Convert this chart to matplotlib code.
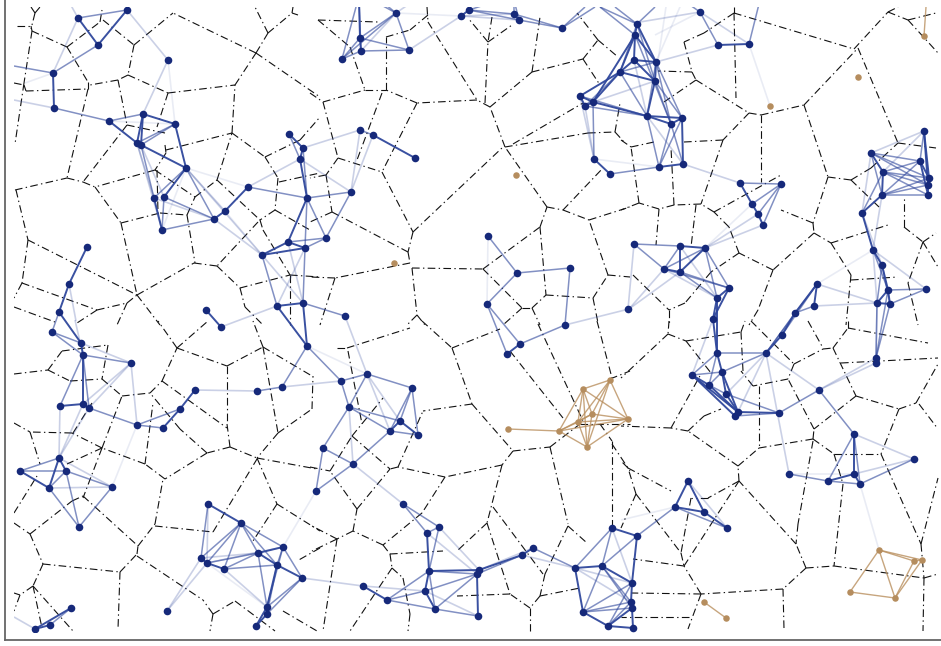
import matplotlib
matplotlib.use("Agg")
import matplotlib.pyplot as plt
from matplotlib.collections import LineCollection
from matplotlib.patches import Rectangle

plt.rcParams['lines.scale_dashes'] = False

# network nodes
blue_nodes = [
    (78,18),(127,10),(98,45),(53,73),(54,108),(168,60),(109,121),(143,114),(175,124),(137,143),(141,145),
    (186,168),(154,198),(164,197),(162,230),(214,219),(225,211),(248,187),(289,134),(303,148),(300,159),
    (307,198),(288,242),(305,248),(262,255),(277,306),(303,303),(87,247),(69,284),(59,312),(206,310),
    (396,13),(360,38),(361,51),(342,59),(409,50),(461,16),(469,10),(514,14),(519,20),(562,28),
    (360,130),(373,135),(415,158),(351,192),(326,238),(345,316),(488,236),(517,273),(570,268),(487,304),
    (565,325),(628,309),(594,159),(610,174),(580,96),(585,106),(593,102),(620,72),
    (637,24),(635,35),(634,60),(656,62),(655,81),(647,116),(671,124),(682,118),(659,167),(683,164),
    (700,12),(718,45),(749,44),(740,183),(781,184),(752,204),(758,214),(763,225),
    (924,131),(871,153),(920,161),(883,172),(929,178),(928,185),(882,195),(928,195),(862,213),
    (873,250),(882,265),(888,290),(926,289),(877,303),(890,304),(817,284),(814,306),(795,313),
    (634,244),(680,246),(705,248),(664,269),(680,272),(729,288),(717,298),(713,319),
    (52,332),(81,343),(83,355),(131,363),(60,406),(83,404),(89,408),(137,425),(163,428),(180,409),(195,390),
    (257,391),(282,387),(307,346),(221,327),(59,458),(20,471),(66,471),(49,488),(112,487),(79,527),(316,491),
    (208,504),(241,523),(283,547),(258,553),(201,558),(207,563),(224,569),(277,565),(302,578),(267,607),
    (267,614),(256,626),(167,611),(71,608),(50,625),(35,629),
    (367,374),(341,381),(412,388),(349,407),(390,431),(400,421),(418,435),(323,448),(353,464),(403,504),
    (427,533),(439,527),(429,571),(479,570),(477,574),(425,591),(435,609),(478,616),(387,600),(363,586),
    (522,555),(533,548),(575,568),(602,566),(612,528),(637,536),(583,612),(608,626),(632,583),(631,602),
    (632,608),(633,628),(507,354),(520,344),
    (717,353),(766,353),(782,335),(692,375),(722,372),(709,385),(726,394),(738,412),(735,416),(779,413),
    (819,390),(854,434),(876,358),(876,363),(914,459),(789,474),(828,481),(854,474),(860,484),
    (688,481),(675,507),(704,512),(727,528),
]
tan_nodes = [
    (770,106),(858,77),(924,36),(516,175),(394,263),(508,429),(559,431),(578,422),(583,389),(610,380),
    (592,414),(628,419),(587,447),(704,602),(726,618),(879,550),(914,561),(922,560),(895,598),(850,592),
]

# links, (x0, y0, x1, y1), grouped by how strong they look
strong_links = [
    (78,18,98,45),(127,10,98,45),(53,73,54,108),(143,114,175,124),(109,121,137,143),(143,114,137,143),
    (143,114,141,145),(175,124,186,168),(141,145,186,168),(186,168,164,197),(154,198,162,230),(214,219,225,211),
    (225,211,248,187),(289,134,303,148),(303,148,300,159),(300,159,307,198),(373,135,415,158),(307,198,288,242),
    (288,242,305,248),(288,242,262,255),(262,255,305,248),(277,306,303,303),(277,306,307,346),(303,303,307,346),
    (206,310,221,327),(180,409,195,390),(163,428,180,409),(87,247,69,284),(69,284,59,312),
    (59,312,81,343),(81,343,83,355),(83,355,83,404),(60,406,83,404),(83,404,89,408),(59,458,49,488),(59,458,66,471),
    (20,471,49,488),(71,608,35,629),(50,625,35,629),(208,504,241,523),(283,547,258,553),(258,553,277,565),
    (201,558,207,563),(207,563,224,569),(277,565,302,578),(277,565,267,607),(267,607,267,614),(267,614,256,626),
    (267,607,256,626),(400,421,390,431),(400,421,418,435),(427,533,429,571),(429,571,479,570),(429,571,425,591),
    (425,591,435,609),(363,586,387,600),(477,574,478,616),(479,570,522,555),(522,555,533,548),(575,568,602,566),
    (612,528,637,536),(575,568,583,612),(602,566,632,583),(637,536,632,583),(583,612,608,626),(608,626,632,608),
    (608,626,633,628),(632,583,631,602),(631,602,632,608),(632,608,633,628),(675,507,688,481),(675,507,704,512),
    (688,481,704,512),(704,512,727,528),(507,354,520,344),(680,246,705,248),(680,246,680,272),(705,248,680,272),
    (664,269,680,272),(729,288,717,298),(729,288,713,319),(717,298,713,319),(713,319,717,353),(717,298,717,353),
    (717,353,722,372),(692,375,709,385),(692,375,738,412),(692,375,735,416),(709,385,738,412),(722,372,726,394),
    (722,372,738,412),(726,394,738,412),(738,412,779,413),(766,353,782,335),(782,335,795,313),(795,313,817,284),
    (814,306,817,284),(854,434,854,474),(828,481,854,474),(854,474,860,484),(873,250,882,265),(862,213,873,250),
    (882,265,888,290),(888,290,890,304),(888,290,877,303),(877,303,890,304),(876,358,876,363),(924,131,928,185),
    (924,131,929,178),(871,153,883,172),(920,161,929,178),(920,161,928,195),(883,172,882,195),(929,178,928,185),
    (928,185,928,195),(882,195,862,213),(637,24,635,35),(635,35,634,60),(635,35,620,72),(635,35,656,62),
    (637,24,656,62),(634,60,656,62),(634,60,620,72),(634,60,655,81),(620,72,655,81),(656,62,655,81),(655,81,647,116),
    (647,116,671,124),(647,116,682,118),(671,124,682,118),(682,118,683,164),(659,167,683,164),(620,72,580,96),
    (620,72,593,102),(635,35,593,102),(580,96,593,102),(585,106,593,102),(580,96,585,106),(593,102,647,116),
    (594,159,610,174),(514,14,519,20),(461,16,469,10),(360,38,361,51),(360,38,359,0),(718,45,749,44),
    (740,183,752,204),(752,204,758,214),(758,214,763,225),
]
medium_links = [
    (78,18,127,10),(98,45,53,73),(14,66,53,73),(54,108,109,121),(109,121,143,114),(175,124,141,145),(175,124,137,143),
    (141,145,154,198),(186,168,154,198),(164,197,162,230),(162,230,214,219),(164,197,214,219),(186,168,214,219),
    (248,187,307,198),(289,134,300,159),(303,148,307,198),(360,130,373,135),(307,198,351,192),(351,192,326,238),
    (307,198,305,248),(307,198,326,238),(288,242,326,238),(305,248,326,238),(262,255,277,306),(305,248,303,303),
    (303,303,345,316),(307,346,341,381),(282,387,307,346),(257,391,282,387),(137,425,180,409),(137,425,163,428),(59,312,52,332),
    (52,332,81,343),(52,332,83,355),(83,355,131,363),(83,355,89,408),(83,355,60,406),(89,408,137,425),(59,458,20,471),
    (20,471,66,471),(66,471,49,488),(66,471,112,487),(49,488,79,527),(66,471,79,527),(112,487,79,527),(71,608,50,625),
    (208,504,201,558),(241,523,283,547),(241,523,258,553),(241,523,201,558),(241,523,207,563),(241,523,224,569),
    (241,523,277,565),(283,547,277,565),(258,553,207,563),(258,553,224,569),(258,553,267,607),(224,569,277,565),
    (283,547,302,578),(277,565,267,614),(283,547,267,607),(302,578,267,607),(302,578,267,614),(316,491,323,448),
    (341,381,367,374),(367,374,412,388),(341,381,349,407),(367,374,349,407),(412,388,400,421),(412,388,418,435),
    (412,388,390,431),(349,407,400,421),(349,407,390,431),(390,431,418,435),(390,431,353,464),(323,448,353,464),
    (349,407,323,448),(353,464,316,491),(403,504,427,533),(403,504,439,527),(427,533,439,527),(439,527,429,571),
    (429,571,477,574),(429,571,435,609),(425,591,477,574),(435,609,477,574),(435,609,478,616),(387,600,429,571),
    (387,600,425,591),(387,600,435,609),(477,574,522,555),(533,548,575,568),(575,568,612,528),(602,566,612,528),
    (602,566,637,536),(602,566,583,612),(602,566,631,602),(602,566,632,608),(583,612,632,583),(583,612,631,602),
    (583,612,632,608),(608,626,632,583),(608,626,631,602),(637,536,675,507),(675,507,727,528),
    (488,236,517,273),(517,273,570,268),(517,273,487,304),(570,268,565,325),(487,304,520,344),(487,304,507,354),
    (520,344,565,325),(634,244,680,246),(634,244,664,269),(680,246,664,269),(705,248,664,269),(664,269,729,288),
    (680,272,729,288),(680,272,717,298),(705,248,729,288),(705,248,717,298),(717,353,766,353),(717,353,692,375),
    (717,353,709,385),(692,375,722,372),(709,385,722,372),(709,385,726,394),(722,372,766,353),(726,394,779,413),
    (735,416,779,413),(782,335,817,284),(766,353,817,284),(766,353,795,313),(795,313,814,306),(779,413,819,390),
    (819,390,854,434),(854,434,828,481),(854,434,860,484),(789,474,828,481),(828,481,860,484),(860,484,914,459),
    (873,250,888,290),(882,265,877,303),(882,265,890,304),(888,290,926,289),(890,304,926,289),(877,303,876,358),
    (890,304,876,358),(888,290,876,358),(924,131,920,161),(871,153,920,161),(871,153,882,195),(871,153,929,178),
    (871,153,928,185),(920,161,883,172),(920,161,882,195),(883,172,929,178),(883,172,928,185),(883,172,928,195),
    (882,195,929,178),(882,195,928,185),(882,195,928,195),(883,172,862,213),(637,24,620,72),(637,24,655,81),
    (620,72,656,62),(620,72,647,116),(656,62,647,116),(635,35,671,124),(656,62,671,124),(655,81,671,124),
    (655,81,682,118),(656,62,682,118),(647,116,659,167),(671,124,659,167),(671,124,683,164),(682,118,659,167),
    (620,72,585,106),(580,96,647,116),(585,106,647,116),(593,102,594,159),(610,174,659,167),(637,24,615,7),
    (637,24,600,7),(637,24,655,7),(635,35,600,7),(562,28,585,7),(562,28,595,7),(562,28,519,20),(562,28,514,14),
    (469,10,514,14),(469,10,519,20),(514,14,514,0),(519,20,514,0),(469,10,500,0),(396,13,360,38),(396,13,342,59),
    (396,13,409,50),(360,38,342,59),(361,51,342,59),(361,51,409,50),(360,38,409,50),(361,51,359,0),(342,59,356,7),
    (396,13,372,0),(396,13,380,0),(700,12,718,45),(749,44,760,0),(700,12,690,5),(740,183,781,184),(781,184,752,204),
    (781,184,758,214),(781,184,763,225),
]
light_links = [
    (78,18,53,73),(78,18,68,0),(127,10,168,60),(14,100,54,108),(168,60,143,114),(137,143,154,198),(141,145,164,197),
    (137,143,162,230),(154,198,214,219),(186,168,225,211),(248,187,300,159),(186,168,262,255),(214,219,262,255),
    (303,148,360,130),(300,159,351,192),(360,130,351,192),(373,135,351,192),(305,248,277,306),(288,242,303,303),
    (262,255,303,303),(221,327,277,306),(345,316,367,374),(282,387,341,381),(195,390,257,391),(69,284,76,321),
    (81,343,131,363),(75,320,83,355),(131,363,137,425),(131,363,89,408),(131,363,83,404),(60,406,59,458),(89,408,59,458),
    (83,404,59,458),(49,488,112,487),(59,458,112,487),(14,617,35,629),(208,504,207,563),(283,547,207,563),(258,553,201,558),
    (224,569,267,607),(201,558,167,611),(207,563,167,611),(302,578,363,586),(367,374,390,431),(367,374,400,421),
    (349,407,353,464),(353,464,403,504),(439,527,479,570),(427,533,477,574),(363,586,425,591),(425,591,478,616),
    (479,570,533,548),(522,555,575,568),(612,528,632,583),(575,568,631,602),(575,568,632,583),(688,481,727,528),
    (565,325,629,309),(628,309,634,244),(629,309,680,272),(629,309,664,269),(664,269,717,298),(680,246,717,298),
    (705,248,763,225),(705,248,758,214),(713,319,692,375),(726,394,766,353),(738,412,766,353),(814,306,877,303),
    (817,284,877,303),(766,353,789,474),(766,353,819,390),(819,390,876,363),(819,390,876,358),(854,434,914,459),
    (854,474,914,459),(873,250,877,303),(873,250,926,289),(877,303,876,363),(882,265,862,213),(924,131,871,153),
    (924,131,883,172),(871,153,862,213),(882,195,873,250),(634,60,647,116),(647,116,683,164),(655,81,593,102),
    (580,96,594,159),(585,106,594,159),(683,164,740,183),(461,16,514,14),(461,16,519,20),(409,50,461,16),(396,13,361,51),
    (396,13,415,0),(700,12,749,44),(700,12,640,22),(718,45,656,62),
]
faint_links = [
    (25,83,53,73),(168,60,175,124),(109,121,175,124),(186,168,248,187),(162,230,186,168),(225,211,262,255),
    (307,346,367,374),(137,425,112,487),(207,563,267,607),(283,547,316,491),(488,236,487,304),
    (789,474,854,474),(705,248,752,204),(817,284,873,250),(675,507,621,520),(594,159,659,167),(749,44,770,106),
    (396,13,461,16),(683,0,656,62),(667,0,655,81),(700,12,655,35),(860,484,879,550),
]
tan_links = [
    (704,602,726,618),(879,550,914,561),(879,550,922,560),(879,550,850,592),(879,550,895,598),(850,592,895,598),
    (895,598,914,561),(895,598,922,560),(914,561,922,560),(924,36,926,7),(508,429,559,431),(559,431,578,422),
    (559,431,592,414),(559,431,583,389),(559,431,587,447),(559,431,628,419),(583,389,610,380),(583,389,578,422),
    (583,389,592,414),(583,389,587,447),(583,389,628,419),(610,380,578,422),(610,380,592,414),(610,380,628,419),
    (610,380,587,447),(578,422,592,414),(592,414,628,419),(578,422,628,419),(578,422,587,447),(592,414,587,447),
    (587,447,628,419),
]

# cell borders behind the network
cell_borders = [
    (35,13,40,7),(35,13,31,7),(35,13,31,29),(17,26,31,26),(31,26,32,31),(32,31,67,47),(32,31,24,83),(24,83,15,144),
    (14,83,24,85),(24,85,26,91),(26,91,88,89),(67,47,88,82),(88,82,88,89),(67,47,100,22),(100,22,102,10),(103,20,134,45),
    (134,45,173,13),(134,45,128,75),(128,75,118,80),(118,80,90,85),(128,75,168,93),(118,80,127,125),(168,93,235,85),
    (168,93,157,127),(88,89,67,178),(127,125,83,182),(127,125,165,133),(165,145,166,153),(166,153,155,170),(166,150,232,133),
    (155,170,95,187),(155,170,195,197),(15,190,67,178),(67,178,83,182),(83,182,95,187),(95,187,121,223),(121,223,160,213),
    (160,213,187,215),(121,223,137,295),(16,190,28,240),(28,240,22,283),(22,283,14,298),(28,240,137,295),(22,283,97,310),
    (97,310,127,303),(127,303,137,295),(137,295,194,263),(137,295,160,325),(127,303,117,325),(14,307,55,322),(97,310,77,323),
    (157,170,158,213),(187,215,195,263),(187,215,195,197),(195,197,217,180),(217,180,232,133),(232,133,235,85),(235,85,256,53),
    (256,53,268,33),(268,33,255,7),(268,33,292,13),(292,13,293,7),(292,13,298,15),(256,53,173,13),(256,53,320,97),
    (232,133,265,157),(265,157,278,178),(265,157,300,140),(300,140,320,117),(278,178,275,210),(279,182,320,173),(275,210,260,220),
    (217,180,260,220),(260,220,263,230),(263,230,290,275),(258,222,217,266),(194,263,217,266),(217,266,240,288),(240,288,245,307),
    (245,307,263,325),(240,288,290,275),(290,275,320,277),(290,275,290,325),(275,210,310,230),
    (318,20,378,22),(318,20,350,47),(350,47,365,90),(365,90,386,90),(386,90,386,37),(386,37,410,30),(410,30,428,15),
    (427,7,428,22),(428,22,477,100),(477,100,417,103),(417,103,386,90),(417,103,382,172),(382,93,357,160),(323,102,365,90),
    (323,102,338,158),(310,93,323,102),(338,158,382,172),(338,158,326,175),(326,175,332,212),(326,175,310,178),(332,212,408,252),
    (332,212,310,222),(382,172,413,232),(413,232,408,252),(413,232,503,147),(408,252,410,263),(410,263,335,278),(335,278,310,277),
    (335,278,320,325),(412,268,483,269),(412,268,417,315),(417,315,425,325),(417,315,407,325),(483,269,540,227),(483,269,522,308),
    (522,308,503,325),(522,308,532,308),(532,308,546,295),(532,308,540,325),(540,227,547,207),(540,227,546,295),(546,295,593,298),
    (593,298,598,323),(593,298,608,275),(608,275,630,277),(608,275,589,220),(547,207,563,210),(563,210,589,220),(563,210,603,168),
    (589,220,630,207),(547,207,505,147),(505,147,490,107),(490,107,477,100),(490,107,532,72),(532,72,583,59),(532,72,540,17),
    (583,59,598,40),(583,59,600,85),(485,103,488,42),(488,42,468,18),(488,42,512,25),(492,17,488,42),(505,147,588,133),
    (513,144,583,103),(588,133,615,132),(615,132,625,143),(615,132,620,103),(598,40,618,57),(598,40,577,13),
    (734,13,854,49),(734,13,734,7),(734,13,704,33),(704,33,684,42),(684,42,692,72),(692,72,696,80),(692,72,658,71),(696,80,664,102),
    (696,80,749,113),(734,13,736,98),(749,113,761,115),(749,113,723,140),(761,115,804,105),(761,115,761,182),(804,105,858,48),
    (804,105,828,177),(828,177,851,180),(828,177,813,223),(851,180,879,207),(851,180,871,168),(871,168,898,143),(813,223,781,210),
    (813,223,814,233),(814,233,831,243),(814,233,773,270),(773,270,739,253),(739,253,729,227),(729,227,714,212),(714,212,701,204),
    (739,253,711,272),(773,270,758,310),(758,310,749,325),(831,243,888,225),(831,243,851,275),(851,275,846,325),(851,280,898,277),
    (904,227,904,197),(904,227,923,242),(923,242,936,233),(923,242,908,283),(923,242,938,267),(908,283,918,325),(854,49,888,12),
    (888,12,898,7),(888,12,908,20),(908,20,936,13),(908,20,938,53),(858,48,898,143),(898,143,936,148),(714,212,781,175),
    (723,140,684,142),(723,140,701,204),(701,204,674,205),(696,205,691,247),(674,205,671,148),(674,205,659,209),(659,209,639,203),
    (639,203,631,147),(659,209,656,245),(631,147,654,142),(639,203,621,210),(621,140,631,147),(711,272,685,303),(685,303,669,310),
    (669,310,669,325),(633,275,669,310),
    (14,374,48,370),(48,370,62,351),(48,370,70,381),(70,381,102,379),(62,351,108,345),(108,345,102,379),(102,379,122,396),
    (122,396,150,393),(150,393,162,381),(162,381,177,348),(177,348,158,321),(177,348,208,321),(177,348,227,366),(227,366,263,347),
    (227,366,227,424),(227,424,230,447),(162,381,227,428),(263,347,253,321),(263,347,278,433),(263,347,312,376),(278,433,312,409),
    (312,409,313,376),(278,433,257,458),(230,447,257,458),(230,447,207,453),(207,453,180,429),(180,429,150,393),(207,453,165,479),
    (165,479,145,464),(145,464,153,403),(145,464,102,448),(102,448,122,396),(102,448,72,433),(72,433,30,432),(14,423,30,432),
    (30,432,40,464),(73,433,92,403),(102,448,67,464),(102,448,83,498),(14,513,37,476),(14,523,30,534),(30,534,72,501),(72,501,83,496),
    (30,534,43,564),(83,496,138,546),(43,564,120,572),(43,564,33,586),(33,586,20,595),(20,595,14,593),(20,595,14,611),(33,586,42,628),
    (33,586,73,631),(120,572,137,554),(120,572,118,629),(137,554,138,546),(138,546,155,524),(155,524,163,479),(155,526,213,532),
    (213,532,257,459),(257,458,317,469),(257,458,277,504),(277,504,320,531),(277,504,253,541),(137,556,203,600),(213,614,203,600),
    (213,614,210,631),(213,614,235,601),(235,601,275,631),(320,548,297,561),(283,611,317,631),
    (347,348,410,328),(337,348,347,348),(348,351,362,424),(422,321,452,348),(452,348,500,329),(452,348,472,404),(472,404,423,411),
    (472,404,513,451),(513,451,502,465),(513,451,550,447),(550,447,580,424),(550,447,568,524),(502,465,445,477),(445,477,398,467),
    (398,467,390,469),(398,467,423,411),(445,477,422,513),(422,513,383,545),(502,465,487,523),(487,523,457,551),(487,523,510,594),
    (493,507,543,574),(568,526,545,574),(545,574,540,596),(540,596,530,608),(530,608,510,594),(530,608,530,631),(540,596,580,588),
    (510,594,457,596),(568,526,587,543),(383,545,390,554),(390,554,443,551),(390,554,392,568),(392,568,350,631),(392,568,403,578),
    (403,578,410,614),(410,614,408,631),(383,545,353,531),(353,531,357,509),(357,509,390,469),(357,509,330,471),(353,531,337,539),
    (337,539,312,551),(337,539,312,526),(337,539,323,631),(310,467,330,471),(330,471,352,436),(352,436,383,398),(352,436,390,469),
    (610,379,630,371),(612,441,612,528),(600,424,612,441),(597,321,612,378),(538,324,583,421),(510,351,563,418),(612,444,630,471),
    (580,424,630,424),
    (669,321,668,334),(668,334,621,378),(668,334,686,341),(686,341,741,332),(686,341,711,373),(741,332,745,321),(741,332,743,371),
    (751,321,794,364),(794,364,788,379),(794,364,823,349),(823,349,833,348),(808,321,823,348),(833,348,848,328),(848,328,928,343),
    (848,321,848,328),(833,348,856,396),(841,363,938,358),(856,396,899,409),(899,409,916,403),(916,403,938,364),(919,404,938,429),
    (899,409,881,454),(856,396,814,429),(814,429,788,379),(788,379,753,386),(753,386,741,371),(759,386,759,448),(759,448,813,439),
    (813,439,814,429),(813,439,834,454),(834,454,881,454),(834,454,843,484),(843,484,834,566),(813,441,798,524),(798,524,796,544),
    (881,454,921,544),(921,544,938,478),(921,544,924,578),(924,578,923,631),(924,578,938,574),(806,568,834,566),(834,566,924,578),
    (806,568,796,544),(796,544,739,481),(806,568,783,589),(783,589,784,629),(783,589,701,594),(701,594,684,566),(701,594,688,629),
    (701,594,631,593),(684,566,739,481),(684,566,633,559),(739,481,738,466),(738,466,688,431),(688,431,671,428),(671,428,621,426),
    (688,431,704,416),(704,416,721,409),(671,428,701,374),(738,466,759,448),(739,481,708,498),(708,498,691,498),(691,498,681,553),
    (681,553,684,566),(636,494,681,553),(636,494,628,468),(628,468,621,461),(628,468,671,491),(636,494,621,528),(689,617,621,617),
]


def to_segments(links):
    return [((x0, y0), (x1, y1)) for x0, y0, x1, y1 in links]


fig = plt.figure(figsize=(9.41, 6.46), dpi=100)
ax = fig.add_axes([5 / 941, 6 / 646, 936 / 941, 640 / 646])
ax.set_xlim(5, 941)
ax.set_ylim(640, 0)
ax.set_xticks([])
ax.set_yticks([])
ax.spines['top'].set_visible(False)
ax.spines['right'].set_visible(False)
ax.spines['left'].set_color('#666666')
ax.spines['bottom'].set_color('#666666')
ax.spines['left'].set_linewidth(1.3)
ax.spines['bottom'].set_linewidth(1.3)

# everything inside the frame stops at this box
clip_box = Rectangle((14, 7), 927, 625, transform=ax.transData)

borders = LineCollection(to_segments(cell_borders), colors='#111111', linewidths=0.8,
                         linestyles=[(0, (5.5, 2.4, 1, 2.4))], zorder=1)
ax.add_collection(borders)
borders.set_clip_path(clip_box)

blue = '#2f479c'
for links, alpha, lw in [(faint_links, 0.1, 1.2), (light_links, 0.25, 1.2),
                         (medium_links, 0.6, 1.1), (strong_links, 0.95, 1.4)]:
    lines = LineCollection(to_segments(links), colors=blue, alpha=alpha, linewidths=lw, zorder=2)
    ax.add_collection(lines)
    lines.set_clip_path(clip_box)

tan_lines = LineCollection(to_segments(tan_links), colors='#b98f5e', alpha=0.8, linewidths=1.0, zorder=2)
ax.add_collection(tan_lines)
tan_lines.set_clip_path(clip_box)

dots = ax.scatter([p[0] for p in blue_nodes], [p[1] for p in blue_nodes], s=30, c='#16297a',
                  linewidths=0, zorder=3)
dots.set_clip_path(clip_box)
tan_dots = ax.scatter([p[0] for p in tan_nodes], [p[1] for p in tan_nodes], s=22, c='#b58d5e',
                      linewidths=0, zorder=3)
tan_dots.set_clip_path(clip_box)

fig.savefig('out.png', dpi=100)
